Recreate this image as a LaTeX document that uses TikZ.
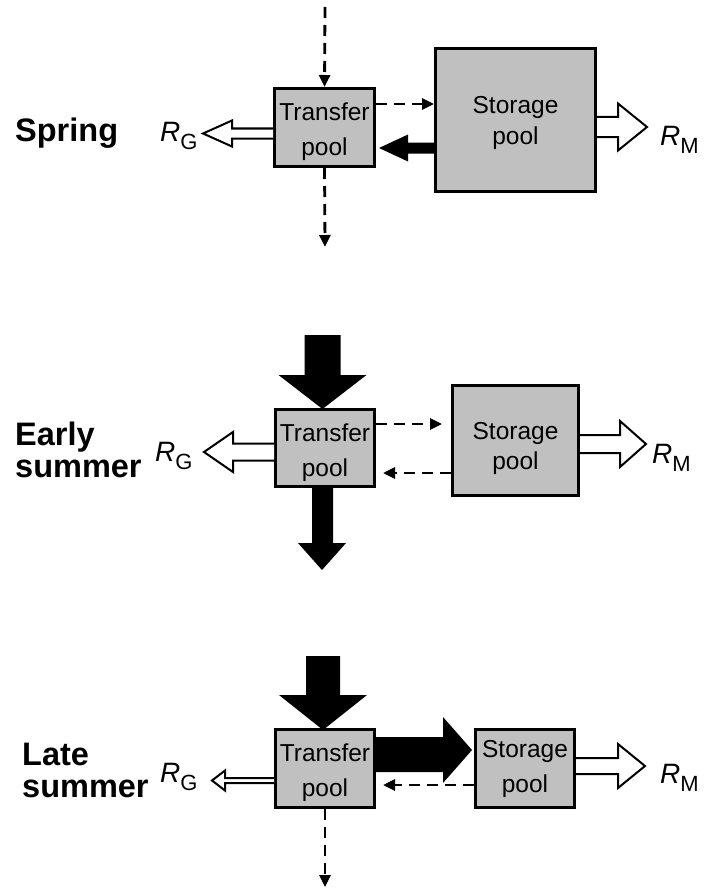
\documentclass[tikz,border=0pt]{standalone}
\usepackage{fontspec}
\setmainfont{Liberation Sans}
\usetikzlibrary{arrows.meta}
\definecolor{poolgray}{RGB}{192,192,192}
\newcommand\RsubLab[2]{{\fontsize{28}{28}\selectfont\itshape #1}\raisebox{-8pt}{\fontsize{22}{22}\selectfont #2}}
\newcommand\padtop[1]{\rule{0pt}{#1}}
\begin{document}
\begin{tikzpicture}[x=1pt,y=-1pt,
 pool/.style={draw, line width=3pt, fill=poolgray, inner sep=0pt, align=center, font=\fontsize{24.5}{35}\selectfont},
 season/.style={anchor=base west, inner sep=0pt, font=\fontsize{32.5}{32.5}\selectfont\bfseries},
 flux/.style={anchor=base west, inner sep=0pt},
 dasharrow/.style={line width=2.8pt, dash pattern=on 11pt off 7pt, -{Triangle[length=12pt,width=11pt]}},
 bigflow/.style={fill=black},
 resp/.style={fill=white, draw=black, line width=2pt, line join=miter}
]
\useasboundingbox (0,0) rectangle (704,888);

% ---------------- Spring ----------------
\node[pool, minimum width=100pt, minimum height=78pt] (T1) at (324.5,127.5) {\padtop{27pt}Transfer\\pool};
\node[pool, minimum width=160pt, minimum height=143pt, font=\fontsize{24.5}{31}\selectfont] (S1) at (515.5,120) {\padtop{24pt}Storage\\pool};
\node[season] (lab1) at (15,142) {Spring};
\node[flux] (rg1) at (160,142) {\RsubLab{R}{G}};
\node[flux] (rm1) at (660,146) {\RsubLab{R}{M}};
\coordinate (in1) at (325,7);
\coordinate (out1) at (325,247);
\draw[dasharrow] (in1) -- (T1.north);
\draw[dasharrow] (T1.south) -- (out1);
\draw[dasharrow] (T1.east |- 0,104) -- (S1.west |- 0,104);
\begin{scope}[shift={(S1.west |- 0,148)}]
  \fill[bigflow] (0,-5.5) -- (-26,-5.5) -- (-26,-13.5) -- (-55,0) -- (-26,13.5) -- (-26,5.5) -- (0,5.5) -- cycle;
\end{scope}
\begin{scope}[shift={(T1.west |- 0,133.5)}]
  \filldraw[resp] (0,-5) -- (-41,-5) -- (-41,-13) -- (-70,0) -- (-41,13) -- (-41,5) -- (0,5);
\end{scope}
\begin{scope}[shift={(S1.east |- 0,127)}]
  \filldraw[resp] (0,-10) -- (21,-10) -- (21,-23.5) -- (50,0) -- (21,23.5) -- (21,10) -- (0,10);
\end{scope}

% ---------------- Early summer ----------------
\node[pool, minimum width=99pt, minimum height=77pt] (T2) at (325,448) {\padtop{27pt}Transfer\\pool};
\node[pool, minimum width=126pt, minimum height=110pt, font=\fontsize{24.5}{30}\selectfont] (S2) at (515.5,440.5) {\padtop{34pt}Storage\\pool};
\node[season] (lab2a) at (15,445) {Early};
\node[season] (lab2b) at (15,477) {summer};
\node[flux] (rg2) at (155,461) {\RsubLab{R}{G}};
\node[flux] (rm2) at (652,463) {\RsubLab{R}{M}};
\begin{scope}[shift={(T2.north)}]
  \fill[bigflow] (-20.5,-73) -- (15.5,-73) -- (15.5,-33) -- (41.5,-33) -- (-2.5,1) -- (-46.5,-33) -- (-20.5,-33) -- cycle;
\end{scope}
\begin{scope}[shift={(T2.south)}]
  \fill[bigflow] (-13,0) -- (8,0) -- (8,55) -- (21,55) -- (-3,82) -- (-27,55) -- (-13,55) -- cycle;
\end{scope}
\draw[dasharrow, shorten >=9pt] (T2.east |- 0,424) -- (S2.west |- 0,424);
\draw[dasharrow, shorten >=7pt] (S2.west |- 0,473) -- (T2.east |- 0,473);
\begin{scope}[shift={(T2.west |- 0,452)}]
  \filldraw[resp] (0,-8.5) -- (-41,-8.5) -- (-41,-20) -- (-70,0) -- (-41,20) -- (-41,8.5) -- (0,8.5);
\end{scope}
\begin{scope}[shift={(S2.east |- 0,444)}]
  \filldraw[resp] (0,-9) -- (40,-9) -- (40,-23) -- (66,0) -- (40,23) -- (40,9) -- (0,9);
\end{scope}

% ---------------- Late summer ----------------
\node[pool, minimum width=99pt, minimum height=78pt] (T3) at (325,768.5) {\padtop{27pt}Transfer\\pool};
\node[pool, minimum width=99pt, minimum height=78pt] (S3) at (525,768.5) {Storage\\pool};
\node[season] (lab3a) at (22,765) {Late};
\node[season] (lab3b) at (22,797) {summer};
\node[flux] (rg3) at (160,782) {\RsubLab{R}{G}};
\node[flux] (rm3) at (660,783) {\RsubLab{R}{M}};
\begin{scope}[shift={(T3.north)}]
  \fill[bigflow] (-19,-72) -- (15,-72) -- (15,-33) -- (42,-33) -- (-2,2) -- (-46,-33) -- (-19,-33) -- cycle;
\end{scope}
\begin{scope}[shift={(T3.east |- 0,750)}]
  \fill[bigflow] (0,-13) -- (67,-13) -- (67,-33) -- (96,0) -- (67,33) -- (67,22) -- (0,22) -- cycle;
\end{scope}
\draw[dasharrow, shorten >=7pt] (S3.west |- 0,785) -- (T3.east |- 0,785);
\coordinate (out3) at (325,887);
\draw[dasharrow] (T3.south) -- (out3);
\begin{scope}[shift={(T3.west |- 0,780.5)}]
  \filldraw[resp] (0,-2.5) -- (-49,-2.5) -- (-49,-10) -- (-62,0) -- (-49,10) -- (-49,2.5) -- (0,2.5);
\end{scope}
\begin{scope}[shift={(S3.east |- 0,766)}]
  \filldraw[resp] (0,-8) -- (42,-8) -- (42,-22) -- (69,0) -- (42,22) -- (42,8) -- (0,8);
\end{scope}
\end{tikzpicture}
\end{document}
